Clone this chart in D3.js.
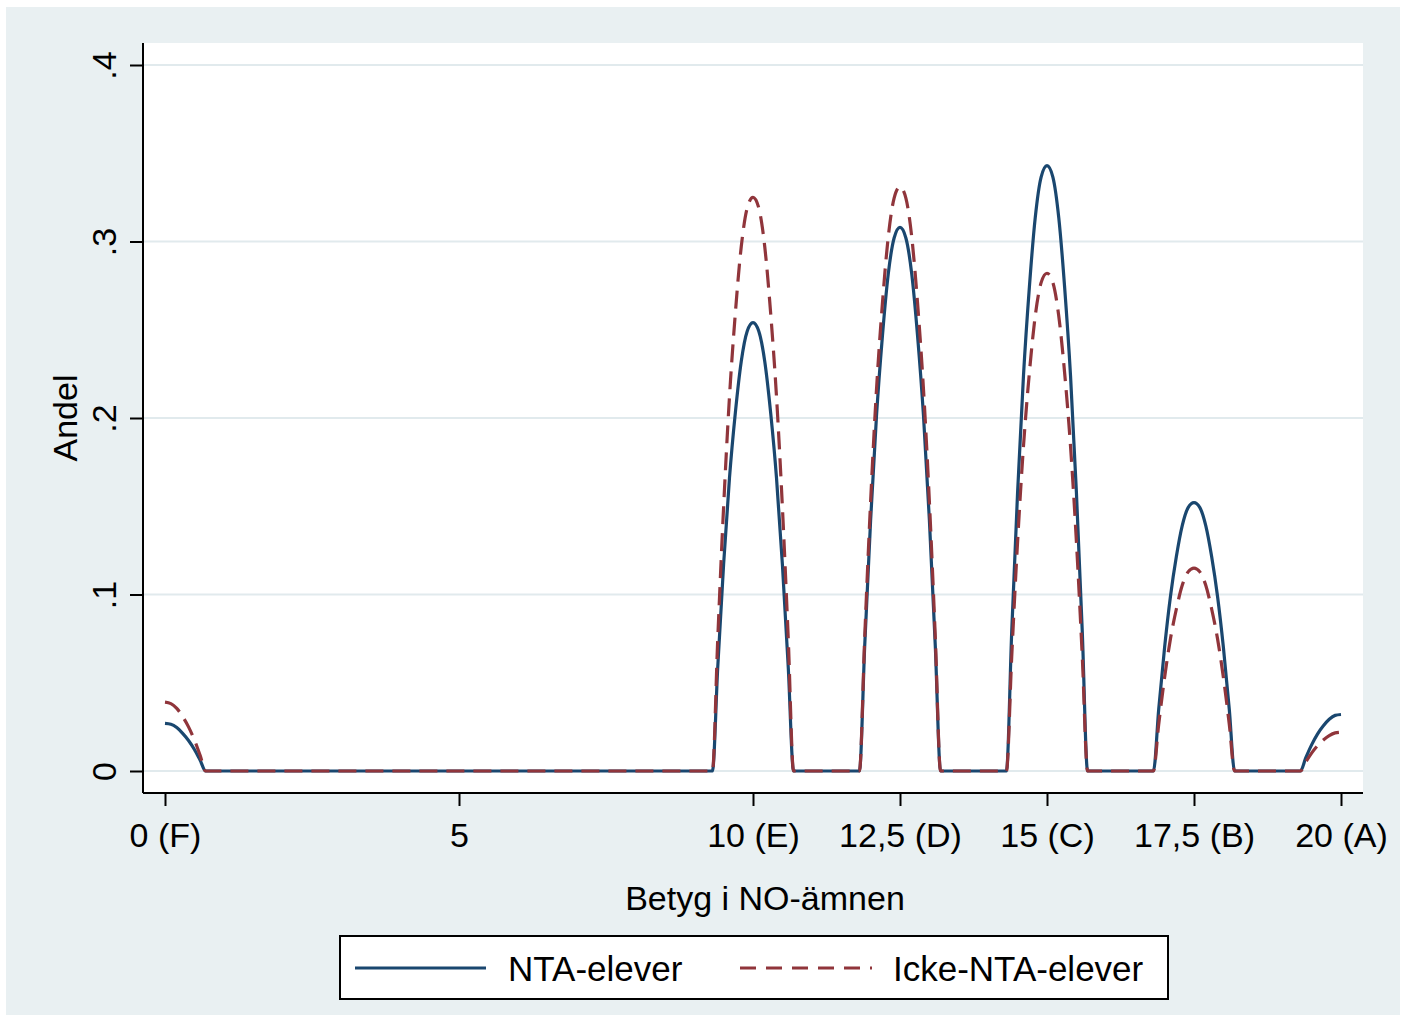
<html>
  <head>
    <meta charset="utf-8">
    <script src="https://cdnjs.cloudflare.com/ajax/libs/d3/7.8.5/d3.min.js" charset="utf-8"></script>
    <style type="text/css">
    body { margin: 0; background: #ffffff; }
    text { font-family: "Liberation Sans", Arial, sans-serif; fill: #000; }
    </style>
  </head>
  <body>
    <div id="chart"></div>
  </body>

  <script type="text/javascript">
  // axis ticks
  var xTicks = [0, 5, 10, 12.5, 15, 17.5, 20]
  var xTickLabels = ["0 (F)", "5", "10 (E)", "12,5 (D)", "15 (C)", "17,5 (B)", "20 (A)"]
  var yTicks = [0, .1, .2, .3, .4]
  var yTickLabels = ["0", ".1", ".2", ".3", ".4"]

  var grade = [
    0, 0.1, 0.2, 0.3, 0.4, 0.5, 0.6, 0.69,
    9.31, 9.4, 9.5, 9.6, 9.7, 9.8, 9.9, 10, 10.1, 10.2, 10.3, 10.4, 10.5, 10.6, 10.69,
    11.81, 11.9, 12, 12.1, 12.2, 12.3, 12.4, 12.5, 12.6, 12.7, 12.8, 12.9, 13, 13.1, 13.19,
    14.31, 14.4, 14.5, 14.6, 14.7, 14.8, 14.9, 15, 15.1, 15.2, 15.3, 15.4, 15.5, 15.6, 15.69,
    16.81, 16.9, 17, 17.1, 17.2, 17.3, 17.4, 17.5, 17.6, 17.7, 17.8, 17.9, 18, 18.1, 18.19,
    19.31, 19.4, 19.5, 19.6, 19.7, 19.8, 19.9, 20
  ]
  // NTA-elever
  var nta = [
    .027, .0265, .0246, .0213, .0173, .0122, .0059, 0,
    0, .0585, .1170, .1660, .2030, .2320, .2490, .254, .2490, .2320, .2030, .1660, .1170, .0585, 0,
    0, .0710, .1420, .2010, .2460, .2815, .3020, .308, .3020, .2815, .2460, .2010, .1420, .0710, 0,
    0, .0790, .1580, .2240, .2740, .3135, .3365, .343, .3365, .3135, .2740, .2240, .1580, .0790, 0,
    0, .0350, .0700, .0990, .1215, .1390, .1492, .152, .1492, .1390, .1215, .0990, .0700, .0350, 0,
    0, .0074, .0148, .0209, .0256, .0293, .0315, .032
  ]
  // Icke-NTA-elever
  var icke = [
    .039, .0382, .0355, .0308, .025, .0176, .0086, 0,
    0, .0745, .1495, .2120, .2595, .2970, .3188, .325, .3188, .2970, .2595, .2120, .1495, .0745, 0,
    0, .0760, .1525, .2160, .2645, .3025, .3246, .331, .3246, .3025, .2645, .2160, .1525, .0760, 0,
    0, .0648, .1300, .1840, .2255, .2578, .2767, .282, .2767, .2578, .2255, .1840, .1300, .0648, 0,
    0, .0265, .0530, .0750, .0918, .1052, .1128, .115, .1128, .1052, .0918, .0750, .0530, .0265, 0,
    0, .0050, .0101, .0143, .0176, .0201, .0216, .022
  ]

  var width = 1410, height = 1018
  var navy = "#1a476f", maroon = "#90353b"

  var svg = d3.select("#chart").append("svg")
    .attr("width", width)
    .attr("height", height)

  // outer graph region
  svg.append("rect")
    .attr("x", 6).attr("y", 7).attr("width", 1394).attr("height", 1008)
    .style("fill", "#e9f0f2")

  var plotL = 143, plotR = 1363, plotT = 43, plotB = 793

  svg.append("rect")
    .attr("x", plotL).attr("y", plotT).attr("width", plotR - plotL).attr("height", plotB - plotT)
    .style("fill", "#ffffff")

  var x = d3.scaleLinear().domain([0, 20]).range([165, 1341])
  var y = d3.scaleLinear().domain([0, .4]).range([771, 65])

  // gridlines
  svg.selectAll(".grid").data(yTicks).enter().append("line")
    .attr("class", "grid")
    .attr("x1", plotL).attr("x2", plotR)
    .attr("y1", function(d){return y(d)})
    .attr("y2", function(d){return y(d)})
    .style("stroke", "#e1eaed")
    .style("stroke-width", 2)

  // y axis
  var yAxis = d3.axisLeft(y)
    .tickValues(yTicks)
    .tickSize(13)
    .tickFormat(function(d, i){return yTickLabels[i]})
  var gy = svg.append("g").attr("transform", "translate(" + plotL + ",0)").call(yAxis)
  gy.select(".domain").remove()
  gy.selectAll(".tick line").style("stroke", "#000").style("stroke-width", 2)
  gy.selectAll(".tick text")
    .attr("x", 0).attr("y", 0).attr("dy", 0)
    .attr("transform", "translate(-27,0) rotate(-90)")
    .style("text-anchor", "middle")
    .style("font-size", "34px")
    .style("font-family", "Liberation Sans, Arial, sans-serif")
  svg.append("line")
    .attr("x1", plotL).attr("x2", plotL).attr("y1", plotT).attr("y2", plotB)
    .style("stroke", "#000").style("stroke-width", 2)

  // x axis
  var xAxis = d3.axisBottom(x)
    .tickValues(xTicks)
    .tickSize(13)
    .tickFormat(function(d, i){return xTickLabels[i]})
  var gx = svg.append("g").attr("transform", "translate(0," + plotB + ")").call(xAxis)
  gx.select(".domain").remove()
  gx.selectAll(".tick line").style("stroke", "#000").style("stroke-width", 2)
  gx.selectAll(".tick text")
    .attr("y", 54).attr("dy", 0)
    .style("font-size", "34px")
    .style("font-family", "Liberation Sans, Arial, sans-serif")
  svg.append("line")
    .attr("x1", plotL).attr("x2", plotR).attr("y1", plotB).attr("y2", plotB)
    .style("stroke", "#000").style("stroke-width", 2)

  // axis titles
  svg.append("text")
    .attr("x", 765).attr("y", 910)
    .style("text-anchor", "middle")
    .style("font-size", "34px")
    .text("Betyg i NO-ämnen")
  svg.append("text")
    .attr("transform", "translate(77,418) rotate(-90)")
    .style("text-anchor", "middle")
    .style("font-size", "34px")
    .text("Andel")

  // density lines
  var line = d3.line()
    .x(function(d){return x(d[0])})
    .y(function(d){return y(d[1])})
    .curve(d3.curveMonotoneX)

  var ntaPts = grade.map(function(g, i){return [g, nta[i]]})
  var ickePts = grade.map(function(g, i){return [g, icke[i]]})

  svg.append("path")
    .datum(ntaPts)
    .attr("d", line)
    .style("fill", "none")
    .style("stroke", navy)
    .style("stroke-width", 3.2)
  svg.append("path")
    .datum(ickePts)
    .attr("d", line)
    .style("fill", "none")
    .style("stroke", maroon)
    .style("stroke-width", 3.2)
    .style("stroke-dasharray", "18,9")

  // legend
  var lg = svg.append("g")
  lg.append("rect")
    .attr("x", 340).attr("y", 936).attr("width", 828).attr("height", 63)
    .style("fill", "#fff").style("stroke", "#000").style("stroke-width", 2)
  lg.append("line")
    .attr("x1", 355).attr("x2", 486).attr("y1", 968).attr("y2", 968)
    .style("stroke", navy).style("stroke-width", 3.2)
  lg.append("text").attr("x", 508).attr("y", 981).style("font-size", "35px").text("NTA-elever")
  lg.append("line")
    .attr("x1", 740).attr("x2", 872).attr("y1", 968).attr("y2", 968)
    .style("stroke", maroon).style("stroke-width", 3.2)
    .style("stroke-dasharray", "16,10")
  lg.append("text").attr("x", 893).attr("y", 981).style("font-size", "35px").text("Icke-NTA-elever")
  </script>
</html>
